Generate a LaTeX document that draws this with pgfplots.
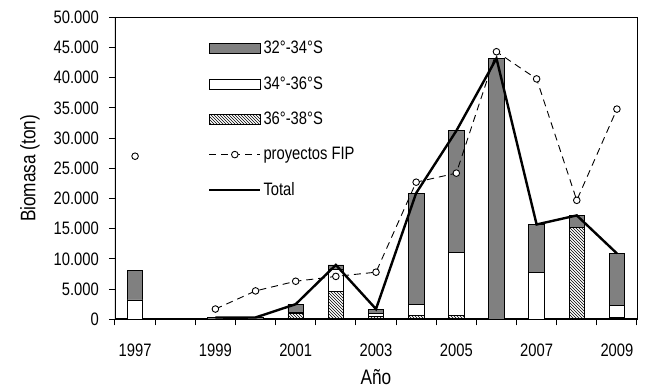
\documentclass[border=0pt]{standalone}
\usepackage{fontspec}
\setmainfont{Liberation Sans}[FakeStretch=0.82]
\usepackage{pgfplots}
\usepackage{pgfplotstable}
\pgfplotsset{compat=1.18}
\usetikzlibrary{patterns}
\definecolor{grayfill}{RGB}{128,128,128}

\pgfplotstableread{
year hat white gray
1997 0 3200 4900
1999 0 0 300
2000 0 0 300
2001 900 300 1300
2002 4600 3700 700
2003 500 500 700
2004 700 1700 18500
2005 700 10400 20100
2006 0 0 43200
2007 0 7700 8000
2008 15200 0 2000
2009 300 2000 8600
}\bars

\pgfplotstableread{
year fip
1997 27000
1998 nan
1999 1700
2000 4700
2001 6300
2002 7100
2003 7800
2004 22700
2005 24200
2006 44300
2007 39800
2008 19700
2009 34800
}\fip

\pgfplotstableread{
year total
1999 300
2000 300
2001 2500
2002 9000
2003 1700
2004 20900
2005 31200
2006 43200
2007 15700
2008 17200
2009 10900
}\total

\begin{document}
\fontsize{18}{21}\selectfont
\begin{tikzpicture}
\begin{axis}[
  scale only axis, width=522pt, height=302pt,
  xmin=1996.5, xmax=2009.5, ymin=0, ymax=50000,
  ybar stacked, bar width=15.5pt,
  xtick={1997,1999,...,2009},
  major x tick style={draw=none},
  minor xtick={1996.5,1997.5,...,2009.5},
  xtick pos=lower, ytick pos=left,
  ytick={0,5000,...,50000},
  scaled y ticks=false,
  /pgf/number format/assume math mode=true,
  x tick label style={/pgf/number format/1000 sep={}, yshift=-12pt},
  y tick label style={/pgf/number format/1000 sep={.}, xshift=-4pt},
  tick align=outside,
  tick style={black, line width=1pt},
  major tick length=6pt, minor tick length=6pt,
  axis line style={line width=0.8pt},
  every axis y label/.style={at={(axis description cs:-0.163,0.5)}, rotate=90, anchor=center, font=\fontsize{21}{24}\selectfont},
  every axis x label/.style={at={(axis description cs:0.5,-0.191)}, anchor=center, font=\fontsize{21}{24}\selectfont},
  ylabel={Biomasa (ton)}, xlabel={Año},
]
\addplot[draw=black, line width=0.8pt, pattern=north west lines] table[x=year,y=hat]{\bars};
\addplot[draw=black, line width=0.8pt, fill=white] table[x=year,y=white]{\bars};
\addplot[draw=black, line width=0.8pt, fill=grayfill] table[x=year,y=gray]{\bars};
\draw[line width=2pt] (rel axis cs:0,1) -- (rel axis cs:0,0) -- (rel axis cs:1,0);
\end{axis}
\begin{axis}[
  scale only axis, width=522pt, height=302pt,
  xmin=1996.5, xmax=2009.5, ymin=0, ymax=50000,
  hide axis,
  unbounded coords=jump,
  legend style={at={(axis description cs:0.178,0.928)}, anchor=north west, draw=none, fill=none,
    inner sep=0pt, row sep=16pt, cells={anchor=west},
    /tikz/every even column/.append style={column sep=3pt}},
]
\addlegendimage{legend image code/.code={\draw[draw=black, line width=0.8pt, fill=grayfill] (0pt,-5pt) rectangle (51pt,5pt);}}
\addlegendentry{32°-34°S}
\addlegendimage{legend image code/.code={\draw[draw=black, line width=0.8pt, fill=white] (0pt,-5pt) rectangle (51pt,5pt);}}
\addlegendentry{34°-36°S}
\addlegendimage{legend image code/.code={\draw[draw=black, line width=0.8pt, pattern=north west lines] (0pt,-5pt) rectangle (51pt,5pt);}}
\addlegendentry{36°-38°S}
\addlegendimage{legend image code/.code={\draw[black, line width=0.9pt, dash pattern=on 7pt off 5pt] (0pt,0pt) -- (51pt,0pt); \draw[black, line width=0.9pt, fill=white] (25.5pt,0pt) circle (3.3pt);}}
\addlegendentry{proyectos FIP}
\addlegendimage{legend image code/.code={\draw[black, line width=2.4pt] (0pt,0pt) -- (51pt,0pt);}}
\addlegendentry{Total}
\addplot[black, line width=0.9pt, dash pattern=on 7pt off 5pt, mark=*, mark size=3.3pt, mark options={solid, fill=white, line width=0.9pt}, forget plot] table[x=year,y=fip]{\fip};
\addplot[black, line width=2.4pt, forget plot] table[x=year,y=total]{\total};
\end{axis}
\pgfresetboundingbox
\useasboundingbox (-115pt,-70.7pt) rectangle (532pt,319.3pt);
\end{tikzpicture}
\end{document}
